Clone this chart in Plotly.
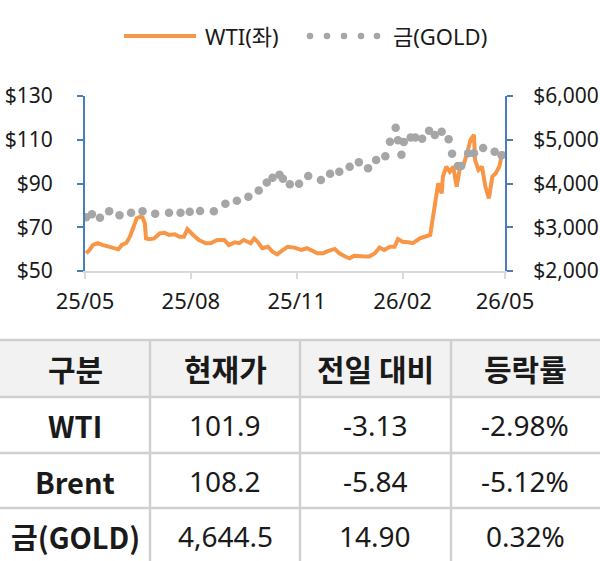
import plotly.graph_objects as go

# ---------------- data ----------------
wti_dates = [
    "2025-05-02", "2025-05-05", "2025-05-08", "2025-05-12", "2025-05-16", "2025-05-21",
    "2025-05-25", "2025-05-30", "2025-06-02", "2025-06-06", "2025-06-09", "2025-06-11",
    "2025-06-13", "2025-06-15", "2025-06-18", "2025-06-20", "2025-06-22", "2025-06-23",
    "2025-06-26", "2025-06-30", "2025-07-05", "2025-07-09", "2025-07-13", "2025-07-18",
    "2025-07-22", "2025-07-26", "2025-07-29", "2025-08-01", "2025-08-03", "2025-08-08",
    "2025-08-14", "2025-08-18", "2025-08-24", "2025-08-30", "2025-09-03", "2025-09-08",
    "2025-09-12", "2025-09-16", "2025-09-22", "2025-09-25", "2025-09-28", "2025-10-02",
    "2025-10-07", "2025-10-11", "2025-10-15", "2025-10-20", "2025-10-24", "2025-10-30",
    "2025-11-05", "2025-11-10", "2025-11-15", "2025-11-19", "2025-11-24", "2025-11-28",
    "2025-12-04", "2025-12-08", "2025-12-13", "2025-12-17", "2025-12-21", "2025-12-26",
    "2025-12-30", "2026-01-03", "2026-01-08", "2026-01-12", "2026-01-16", "2026-01-21",
    "2026-01-25", "2026-01-28", "2026-02-01", "2026-02-06", "2026-02-10", "2026-02-16",
    "2026-02-20", "2026-02-25", "2026-02-27", "2026-03-02", "2026-03-04", "2026-03-07",
    "2026-03-08", "2026-03-11", "2026-03-14", "2026-03-17", "2026-03-20", "2026-03-23",
    "2026-03-26", "2026-03-29", "2026-04-01", "2026-04-04", "2026-04-05", "2026-04-08",
    "2026-04-11", "2026-04-14", "2026-04-17", "2026-04-20", "2026-04-23", "2026-04-26",
    "2026-04-29", "2026-04-30",
]
wti_values = [
    58.1, 59.6, 61.9, 62.7, 61.9, 61.1,
    60.4, 59.9, 61.9, 62.9, 65.7, 68.7,
    71.0, 74.1, 74.8, 74.5, 71.8, 64.9,
    64.5, 64.9, 67.2, 67.5, 66.5, 66.8,
    65.7, 65.7, 69.1, 67.2, 66.5, 64.2,
    62.7, 62.7, 64.2, 64.2, 61.9, 63.1,
    62.7, 64.2, 62.7, 64.9, 63.4, 60.4,
    61.1, 58.8, 57.6, 59.6, 61.1, 60.7,
    59.6, 60.4, 59.1, 58.1, 58.1, 59.1,
    60.1, 58.1, 56.6, 55.8, 57.0, 56.6,
    56.6, 56.6, 58.1, 60.7, 59.6, 61.1,
    61.1, 64.6, 63.4, 63.1, 62.7, 64.9,
    65.7, 66.5, 73.3, 82.4, 90.1, 85.5,
    93.1, 97.7, 95.4, 97.7, 88.5, 97.7,
    98.5, 103.8, 109.9, 112.2, 100.7, 96.2,
    97.7, 88.5, 83.2, 93.1, 94.7, 97.7,
    104.5, 101.9,
]

gold_dates = [
    "2025-05-02", "2025-05-07", "2025-05-14", "2025-05-22", "2025-05-31", "2025-06-10",
    "2025-06-20", "2025-07-01", "2025-07-13", "2025-07-23", "2025-07-31", "2025-08-09",
    "2025-08-21", "2025-08-31", "2025-09-10", "2025-09-20", "2025-09-29", "2025-10-06",
    "2025-10-11", "2025-10-17", "2025-10-20", "2025-10-26", "2025-11-03", "2025-11-11",
    "2025-11-22", "2025-11-30", "2025-12-08", "2025-12-17", "2025-12-25", "2026-01-02",
    "2026-01-09", "2026-01-17", "2026-01-21", "2026-01-26", "2026-01-28", "2026-01-31",
    "2026-02-02", "2026-02-08", "2026-02-12", "2026-02-18", "2026-02-24", "2026-03-01",
    "2026-03-07", "2026-03-13", "2026-03-16", "2026-03-21", "2026-03-24", "2026-03-30",
    "2026-04-04", "2026-04-12", "2026-04-22", "2026-04-28",
]
gold_values = [
    3227, 3296, 3218, 3365, 3273, 3333,
    3365, 3310, 3333, 3333, 3355, 3371,
    3365, 3538, 3607, 3698, 3840, 4023,
    4133, 4201, 4107, 3984, 3995, 4171,
    4080, 4224, 4270, 4384, 4485, 4347,
    4537, 4622, 4953, 5275, 4990, 4658,
    4949, 5051, 5051, 5022, 5207, 5109,
    5184, 5013, 4681, 4400, 4400, 4690,
    4690, 4811, 4727, 4644,
]

x_tick_dates = ["2025-05-01", "2025-08-01", "2025-11-01", "2026-02-01", "2026-05-01"]
x_tick_labels = ["25/05", "25/08", "25/11", "26/02", "26/05"]

legend_labels = ["WTI(좌)", "금(GOLD)"]

table_header = ["구분", "현재가", "전일 대비", "등락률"]
table_names = ["WTI", "Brent", "금(GOLD)"]
table_price = ["101.9", "108.2", "4,644.5"]
table_change = ["-3.13", "-5.84", "14.90"]
table_rate = ["-2.98%", "-5.12%", "0.32%"]

# ---------------- styling ----------------
W, H = 600, 561
ORANGE = "#F79646"
GREY = "#A6A6A6"
BLUE = "#4A7EBB"
TXT = "#1a1a1a"
FONT = "Noto Sans CJK KR, Noto Sans, sans-serif"
LATIN = "Noto Sans, Noto Sans CJK KR, sans-serif"


def px(x):
    return x / W


def py(y):
    return 1 - y / H


fig = go.Figure()
fig.add_trace(go.Scatter(
    x=wti_dates, y=wti_values, mode="lines", name=legend_labels[0],
    line=dict(color=ORANGE, width=4), yaxis="y", showlegend=False,
))
fig.add_trace(go.Scatter(
    x=gold_dates, y=gold_values, mode="markers", name=legend_labels[1],
    marker=dict(color=GREY, size=8.5, line=dict(width=0)), yaxis="y2", showlegend=False,
))

shapes = []
annotations = []

# legend (manual)
shapes.append(dict(type="line", xref="paper", yref="paper",
                   x0=px(124), x1=px(196), y0=py(36), y1=py(36),
                   line=dict(color=ORANGE, width=4)))
for cx in [310, 327, 344, 361, 377]:
    shapes.append(dict(type="circle", xref="paper", yref="paper",
                       x0=px(cx - 3.3), x1=px(cx + 3.3), y0=py(36 + 3.3), y1=py(36 - 3.3),
                       fillcolor=GREY, line=dict(width=0)))
annotations.append(dict(text=legend_labels[0], xref="paper", yref="paper",
                        x=px(203), y=py(36), xanchor="left", yanchor="middle",
                        showarrow=False, font=dict(family=LATIN, size=22, color=TXT)))
annotations.append(dict(text=legend_labels[1], xref="paper", yref="paper",
                        x=px(391), y=py(36), xanchor="left", yanchor="middle",
                        showarrow=False, font=dict(family=LATIN, size=22, color=TXT)))

# table
TOP, HB = 340, 397
row_lines = [453, 508]
col_lines = [150, 300, 451]
col_centers = [75, 225, 375, 525]
row_centers = [425, 481, 536]
LINEC = "#D0D0D0"
shapes.append(dict(type="rect", xref="paper", yref="paper", x0=0, x1=1,
                   y0=py(HB), y1=py(TOP), fillcolor="#F2F2F2", line=dict(width=0), layer="below"))
for yy in [TOP, HB] + row_lines:
    shapes.append(dict(type="line", xref="paper", yref="paper", x0=0, x1=1,
                       y0=py(yy), y1=py(yy), line=dict(color=LINEC, width=2.5)))
for xx in col_lines:
    shapes.append(dict(type="line", xref="paper", yref="paper", x0=px(xx), x1=px(xx),
                       y0=py(TOP), y1=0, line=dict(color=LINEC, width=2.5)))

for i, t in enumerate(table_header):
    annotations.append(dict(text="<b>" + t + "</b>", xref="paper", yref="paper",
                            x=px(col_centers[i]), y=py(368), xanchor="center", yanchor="middle",
                            showarrow=False, font=dict(family=FONT, size=30, color=TXT)))
cols = [table_names, table_price, table_change, table_rate]
for c, vals in enumerate(cols):
    for r, v in enumerate(vals):
        if c == 0:
            txt = "<b>" + v + "</b>"
            f = dict(family=FONT, size=29, color=TXT)
        else:
            txt = v
            f = dict(family=LATIN, size=28, color=TXT)
        annotations.append(dict(text=txt, xref="paper", yref="paper",
                                x=px(col_centers[c]), y=py(row_centers[r]),
                                xanchor="center", yanchor="middle", showarrow=False, font=f))

xtickfont = dict(family=LATIN, size=22, color=TXT)
ytickfont = dict(family=LATIN, size=21, color=TXT)
fig.update_layout(
    width=W, height=H,
    margin=dict(l=0, r=0, t=0, b=0, autoexpand=False),
    paper_bgcolor="white", plot_bgcolor="white",
    showlegend=False,
    xaxis=dict(
        domain=[px(85), px(505)], type="date", automargin=False,
        range=["2025-05-01", "2026-05-01"],
        tickvals=x_tick_dates, ticktext=x_tick_labels,
        showgrid=False, zeroline=False,
        showline=True, linecolor="#D9D9D9", linewidth=2,
        ticks="outside", ticklen=6, tickcolor="#D9D9D9", tickwidth=2,
        tickfont=xtickfont, ticklabelstandoff=4,
    ),
    yaxis=dict(
        domain=[py(271), py(96)], range=[50, 130], dtick=20, tick0=50, automargin=False,
        tickprefix="$", showgrid=False, zeroline=False,
        showline=True, linecolor=BLUE, linewidth=2,
        ticks="outside", ticklen=6, tickcolor=BLUE, tickwidth=2,
        tickfont=ytickfont, ticklabelstandoff=20,
    ),
    yaxis2=dict(
        domain=[py(271), py(96)], range=[2000, 6000], dtick=1000, tick0=2000, automargin=False,
        tickformat="$,.0f", overlaying="y", side="right", anchor="x",
        showgrid=False, zeroline=False,
        showline=True, linecolor=BLUE, linewidth=2,
        ticks="outside", ticklen=6, tickcolor=BLUE, tickwidth=2,
        tickfont=ytickfont, ticklabelstandoff=16,
    ),
    shapes=shapes,
    annotations=annotations,
)

fig.write_html("out.html", config={"displayModeBar": False},
               post_script="document.body.style.margin='0px';")
